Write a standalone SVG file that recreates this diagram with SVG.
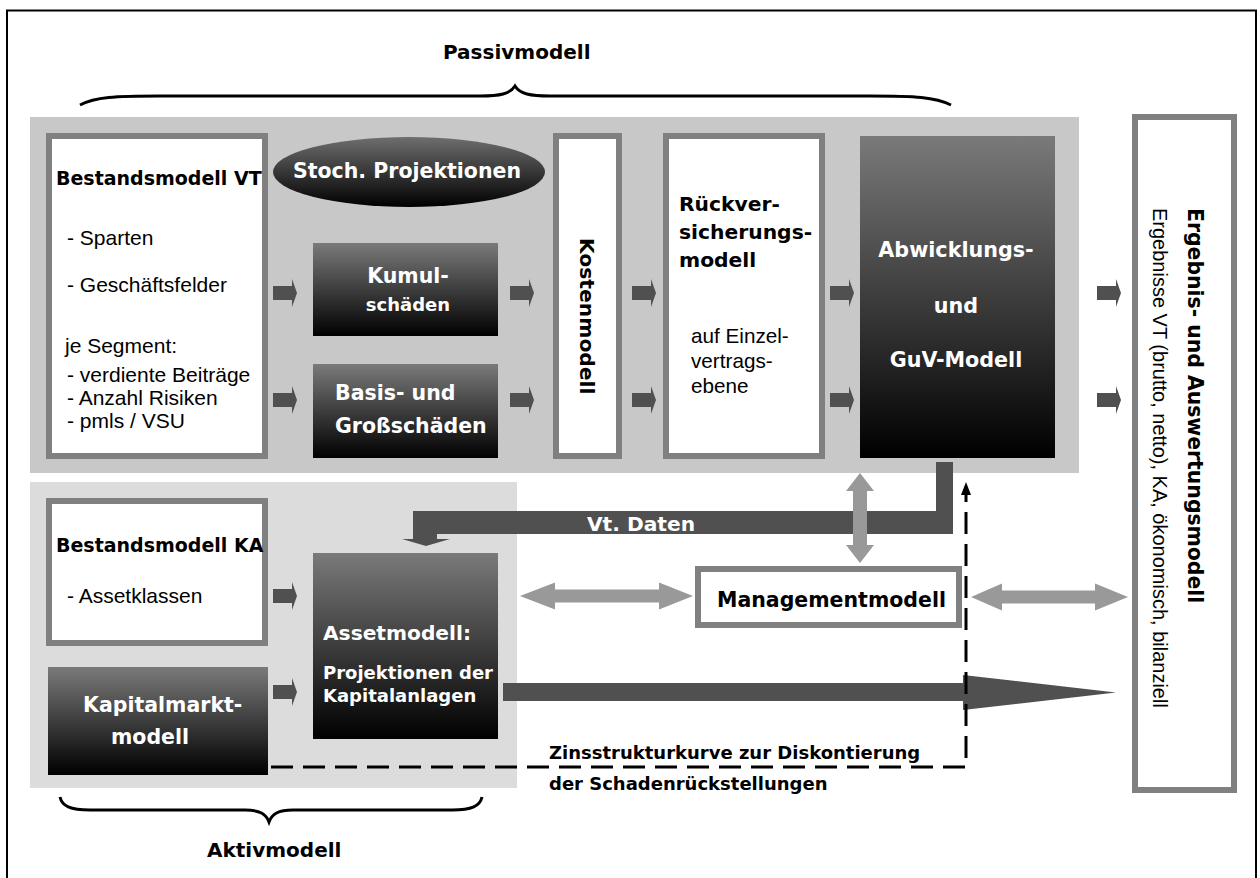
<svg xmlns="http://www.w3.org/2000/svg" xmlns:xlink="http://www.w3.org/1999/xlink" width="1260" height="878" viewBox="0 0 1260 878">
  <style>
    .b { font-family: "DejaVu Sans", "Liberation Sans", sans-serif; font-weight: bold; }
    .r { font-family: "Liberation Sans", Arial, sans-serif; }
    .blk { fill: #000000; }
    .wht { fill: #ffffff; }
    .frame { fill: #ffffff; stroke: #808080; stroke-width: 6; }
    .brace { fill: none; stroke: #000000; stroke-width: 3; }
    .dark { fill: #505050; }
    .grey { fill: #999999; }
  </style>
  <defs>
    <linearGradient id="shade" x1="0" y1="0" x2="0" y2="1">
      <stop offset="0" stop-color="#7a7a7a"/>
      <stop offset="1" stop-color="#000000"/>
    </linearGradient>
    <linearGradient id="shadeEll" x1="0" y1="0" x2="0" y2="1">
      <stop offset="0" stop-color="#6e6e6e"/>
      <stop offset="1" stop-color="#000000"/>
    </linearGradient>
    <path id="blockArrow" d="M0,-7 H19 V-14 L24,0 L19,14 V7 H0 Z"/>
  </defs>

  <rect width="1260" height="878" fill="#ffffff"/>
  <!-- outer frame (open at the bottom edge) -->
  <rect x="7" y="10.5" width="1249" height="900" fill="none" stroke="#000000" stroke-width="2"/>

  <!-- section panels -->
  <g id="passiv-panel">
    <rect x="30" y="117" width="1049" height="356" fill="#c8c8c8"/>
  </g>
  <g id="aktiv-panel">
    <rect x="30" y="482" width="487" height="306" fill="#dcdcdc"/>
  </g>

  <!-- section braces and titles -->
  <g id="passivmodell">
    <path class="brace" d="M80,105 C95,97 115,96 160,96 L480,96 C500,96 510,94 515,86 C520,94 530,96 550,96 L870,96 C915,96 935,97 951,105"/>
    <text class="b blk" x="443" y="59" font-size="20">Passivmodell</text>
  </g>
  <g id="aktivmodell">
    <path class="brace" d="M60,797 C62,806 70,810 90,810 L245,810 C260,810 266,814 269,822 C272,814 278,810 293,810 L452,810 C472,810 480,806 482,797"/>
    <text class="b blk" x="207" y="857" font-size="20">Aktivmodell</text>
  </g>

  <!-- nodes: liabilities side -->
  <g id="bestandsmodell-vt">
    <rect class="frame" x="49" y="136" width="216" height="320"/>
    <text class="b blk" x="56" y="185" font-size="19">Bestandsmodell VT</text>
    <text class="r blk" x="67" y="245" font-size="21">- Sparten</text>
    <text class="r blk" x="67" y="292" font-size="21">- Geschäftsfelder</text>
    <text class="r blk" x="65" y="353" font-size="21">je Segment:</text>
    <text class="r blk" x="67" y="382" font-size="21">- verdiente Beiträge</text>
    <text class="r blk" x="67" y="405" font-size="21">- Anzahl Risiken</text>
    <text class="r blk" x="67" y="428" font-size="21">- pmls / VSU</text>
  </g>

  <g id="stoch-projektionen">
    <ellipse cx="409" cy="172" rx="136" ry="35" fill="url(#shadeEll)"/>
    <text class="b wht" x="407" y="178" font-size="20.5" text-anchor="middle">Stoch. Projektionen</text>
  </g>

  <g id="kumulschaeden">
    <rect x="313" y="243" width="185" height="93" fill="url(#shade)"/>
    <text class="b wht" x="408" y="283" font-size="20.5" text-anchor="middle">Kumul-</text>
    <text class="b wht" x="408" y="311" font-size="18" text-anchor="middle">schäden</text>
  </g>

  <g id="basis-grossschaeden">
    <rect x="313" y="364" width="185" height="94" fill="url(#shade)"/>
    <text class="b wht" x="335" y="400" font-size="20.5">Basis- und</text>
    <text class="b wht" x="335" y="433" font-size="20.5">Großschäden</text>
  </g>

  <g id="kostenmodell">
    <rect class="frame" x="556" y="136" width="63" height="320"/>
    <text class="b blk" font-size="20.3" transform="translate(580,238) rotate(90)">Kostenmodell</text>
  </g>

  <g id="rueckversicherungsmodell">
    <rect class="frame" x="666" y="136" width="156" height="320"/>
    <text class="b blk" x="679" y="211" font-size="20.3">Rückver-</text>
    <text class="b blk" x="679" y="239" font-size="20.3">sicherungs-</text>
    <text class="b blk" x="679" y="267" font-size="20.3">modell</text>
    <text class="r blk" x="691" y="343" font-size="20.7">auf Einzel-</text>
    <text class="r blk" x="691" y="368" font-size="20.7">vertrags-</text>
    <text class="r blk" x="691" y="393" font-size="20.7">ebene</text>
  </g>

  <g id="abwicklungs-guv-modell">
    <rect x="860" y="136" width="195" height="322" fill="url(#shade)"/>
    <text class="b wht" x="956" y="257" font-size="20.7" text-anchor="middle">Abwicklungs-</text>
    <text class="b wht" x="956" y="313" font-size="20.7" text-anchor="middle">und</text>
    <text class="b wht" x="956" y="367" font-size="20.7" text-anchor="middle">GuV-Modell</text>
  </g>

  <g id="ergebnis-auswertungsmodell">
    <rect class="frame" x="1135" y="117" width="99" height="673"/>
    <text class="b blk" font-size="20.4" transform="translate(1188,208) rotate(90)">Ergebnis- und Auswertungsmodell</text>
    <text class="r blk" font-size="20" transform="translate(1153,208) rotate(90)">Ergebnisse VT (brutto, netto), KA, ökonomisch, bilanziell</text>
  </g>

  <!-- nodes: asset side -->
  <g id="bestandsmodell-ka">
    <rect class="frame" x="49" y="501" width="216" height="142"/>
    <text class="b blk" x="56" y="552" font-size="19">Bestandsmodell KA</text>
    <text class="r blk" x="67" y="603" font-size="21">- Assetklassen</text>
  </g>

  <g id="kapitalmarktmodell">
    <rect x="48" y="667" width="220" height="108" fill="url(#shade)"/>
    <text class="b wht" x="83" y="712" font-size="20.5">Kapitalmarkt-</text>
    <text class="b wht" x="111" y="744" font-size="20.5">modell</text>
  </g>

  <g id="assetmodell">
    <rect x="313" y="553" width="185" height="186" fill="url(#shade)"/>
    <text class="b wht" x="323" y="640" font-size="20.2">Assetmodell:</text>
    <text class="b wht" x="323" y="679" font-size="18">Projektionen der</text>
    <text class="b wht" x="323" y="702" font-size="18">Kapitalanlagen</text>
  </g>

  <g id="managementmodell">
    <rect class="frame" x="698" y="569" width="261" height="56"/>
    <text class="b blk" x="717" y="607" font-size="20.5">Managementmodell</text>
  </g>

  <!-- connectors -->
  <g id="connectors">
    <!-- small block arrows between the liability stages -->
    <use xlink:href="#blockArrow" class="dark" x="273" y="293"/>
    <use xlink:href="#blockArrow" class="dark" x="273" y="400"/>
    <use xlink:href="#blockArrow" class="dark" x="510" y="293"/>
    <use xlink:href="#blockArrow" class="dark" x="510" y="400"/>
    <use xlink:href="#blockArrow" class="dark" x="632" y="293"/>
    <use xlink:href="#blockArrow" class="dark" x="632" y="400"/>
    <use xlink:href="#blockArrow" class="dark" x="830" y="293"/>
    <use xlink:href="#blockArrow" class="dark" x="830" y="400"/>
    <use xlink:href="#blockArrow" class="dark" x="1097" y="293"/>
    <use xlink:href="#blockArrow" class="dark" x="1097" y="400"/>
    <!-- inputs to the asset model -->
    <use xlink:href="#blockArrow" class="dark" x="273" y="596"/>
    <use xlink:href="#blockArrow" class="dark" x="273" y="692"/>

    <!-- Vt. Daten: from the run-off model down to the asset model -->
    <path class="dark" d="M936,462 H953 V534 H437 V539 H450 L426,546 L402,539 H413 V511 H936 Z"/>
    <text class="b wht" x="587" y="531" font-size="20.2">Vt. Daten</text>

    <!-- grey double arrows to and from the management model -->
    <path class="grey" d="M860,473 L874,491 H867 V545 H874 L860,563 L846,545 H853 V491 H846 Z"/>
    <path class="grey" d="M520,596 L555,582.5 V589.5 H659 V582.5 L693,596 L659,609.5 V602.5 H555 V609.5 Z"/>
    <path class="grey" d="M971,597 L1002,583.5 V590.5 H1095 V583.5 L1128,597 L1095,610.5 V603.5 H1002 V610.5 Z"/>

    <!-- asset projections to the result model -->
    <path class="dark" d="M503,683 H963 V675 L1116,692.5 L963,710 V701 H503 Z"/>

    <!-- yield curve for discounting claims reserves -->
    <path d="M271,767 H966 V492" fill="none" stroke="#000000" stroke-width="3" stroke-dasharray="22 10"/>
    <polygon points="966,482 971,495 961,495" fill="#000000"/>
    <text class="b blk" x="549" y="759" font-size="18">Zinsstrukturkurve zur Diskontierung</text>
    <text class="b blk" x="549" y="790" font-size="18">der Schadenrückstellungen</text>
  </g>
</svg>
